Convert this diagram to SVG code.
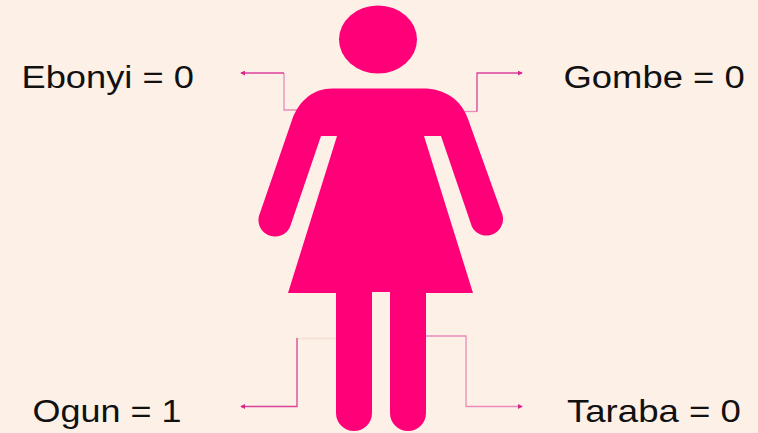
<svg xmlns="http://www.w3.org/2000/svg" width="758" height="433" viewBox="0 0 758 433">
<style>
.l{font:31px "Liberation Sans",Arial,sans-serif;fill:#111}
.c{fill:none;stroke:#d9409a;stroke-width:1.300}
.s{fill:none;stroke:#e88cbc;stroke-width:1.300}
.x{fill:none;stroke:#f8dfd6;stroke-width:1.300}
.f{fill:#ff0078}
</style>
<defs>
<marker id="a" viewBox="0 0 6 6" refX="5" refY="3" markerWidth="5" markerHeight="5" orient="auto-start-reverse" markerUnits="userSpaceOnUse"><path d="M0 0L6 3L0 6z" fill="#d6288a"/></marker>
</defs>
<rect width="758" height="433" fill="#fdf0e6"/>
<g id="connectors">
<path class="s" d="M300 110H284V73"/>
<path class="c" marker-end="url(#a)" d="M284 73H241"/>
<path class="s" d="M462 111.500H477"/>
<path class="c" marker-end="url(#a)" d="M477 111.500V73H522"/>
<path class="x" d="M336 338.500H297"/>
<path class="c" marker-end="url(#a)" d="M297 338V406.500H241"/>
<path class="s" marker-end="url(#a)" d="M426 336H466V406.500H522"/>
</g>
<g id="figure">
<ellipse class="f" cx="378" cy="39.500" rx="39" ry="34"/>
<path class="f" d="M332 88.500H423C444 88.500 461 99 468 119L501 211A15.500 15.500 0 0 1 472 227L441 136H424L473 293H426V413A18 18 0 0 1 390 413V292H372V413A18 18 0 0 1 336 413V293H288L337 136H321L290 227A15.500 15.500 0 0 1 260 213L292 120C299 100 314 88.500 332 88.500Z"/>
</g>
<g id="ebonyi"><text class="l" transform="translate(21.500 88) scale(1.17 1)">Ebonyi = 0</text></g>
<g id="gombe"><text class="l" transform="translate(563.500 88) scale(1.175 1)">Gombe = 0</text></g>
<g id="ogun"><text class="l" transform="translate(32.500 421.500) scale(1.16 1)">Ogun = 1</text></g>
<g id="taraba"><text class="l" transform="translate(567 421.500) scale(1.18 1)">Taraba = 0</text></g>
</svg>
